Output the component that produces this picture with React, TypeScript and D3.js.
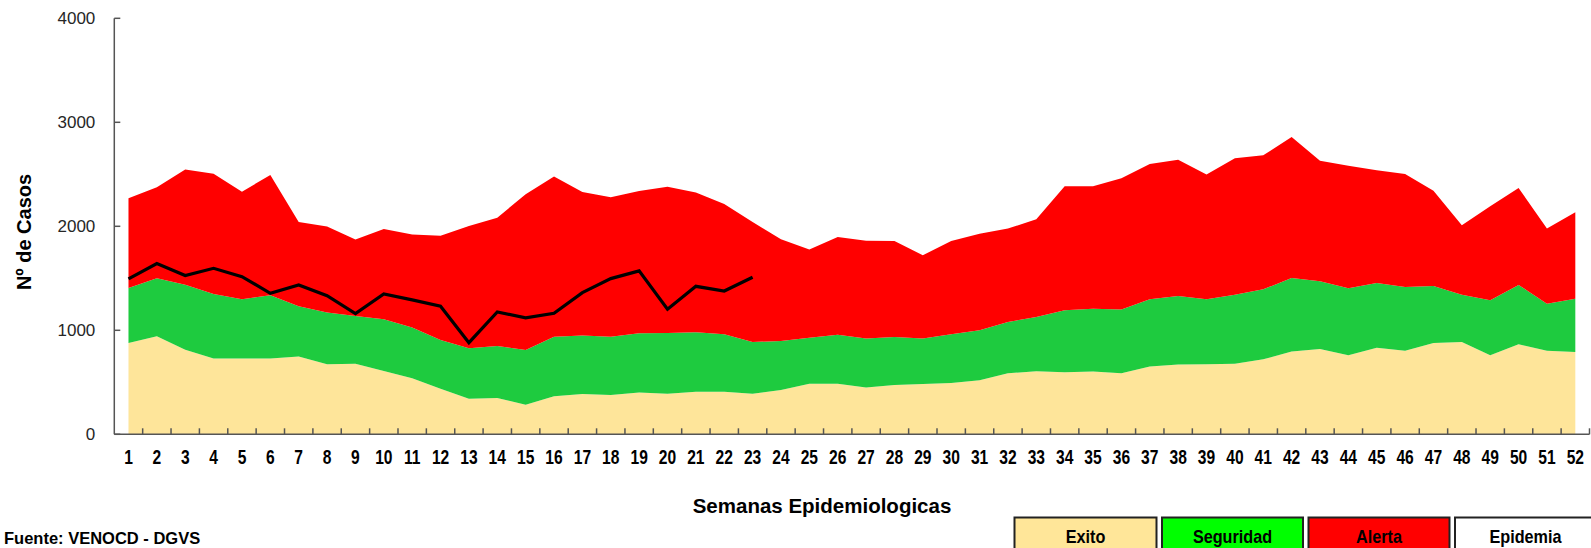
import { useMemo } from 'react';
import * as d3 from 'd3';

// upper limits of each zone, per epidemiological week
const weeks = d3.range(1, 53);
const exito = [878, 942, 814, 728, 728, 728, 747, 673, 679, 609, 538, 439, 343, 349, 285, 365, 388, 378, 401, 391, 410, 410, 391, 426, 487, 487, 449, 474, 484, 494, 519, 587, 606, 596, 603, 587, 651, 670, 673, 679, 721, 795, 821, 760, 833, 804, 878, 888, 760, 865, 804, 792];
const seguridad = [1407, 1500, 1439, 1349, 1298, 1337, 1231, 1170, 1138, 1106, 1026, 907, 827, 849, 811, 939, 949, 939, 971, 974, 981, 962, 888, 897, 929, 958, 920, 936, 920, 962, 1000, 1080, 1128, 1192, 1208, 1199, 1298, 1330, 1298, 1343, 1394, 1503, 1471, 1404, 1455, 1417, 1426, 1343, 1288, 1436, 1256, 1304];
const alerta = [2269, 2375, 2545, 2506, 2333, 2494, 2042, 1997, 1872, 1974, 1920, 1910, 2003, 2083, 2308, 2478, 2330, 2279, 2340, 2381, 2324, 2215, 2042, 1875, 1776, 1897, 1862, 1859, 1721, 1859, 1929, 1978, 2067, 2385, 2385, 2462, 2599, 2641, 2497, 2654, 2683, 2859, 2631, 2583, 2538, 2503, 2343, 2010, 2192, 2369, 1978, 2135];
// cases reported so far (weeks 1-23)
const casos = [1494, 1641, 1526, 1596, 1516, 1356, 1436, 1333, 1160, 1349, 1292, 1231, 881, 1176, 1119, 1163, 1362, 1497, 1571, 1202, 1423, 1378, 1510];
const yTickValues = [0, 1000, 2000, 3000, 4000];

const legendItems = [
  { label: 'Exito', color: '#FFE699' },
  { label: 'Seguridad', color: '#00FF00' },
  { label: 'Alerta', color: '#FF0000' },
  { label: 'Epidemia', color: '#FFFFFF' },
];

const W = 1591;
const H = 548;
const arial = "'Liberation Sans', Arial, sans-serif";

const App = () => {
  const xScale = useMemo(() => d3.scaleBand<number>().domain(weeks).range([114.3, 1589.5]).padding(0), []);
  const yScale = useMemo(() => d3.scaleLinear().domain([0, 4000]).range([434.3, 18.3]), []);
  const cx = (w: number) => (xScale(w) ?? 0) + xScale.bandwidth() / 2;

  const bands = useMemo(() => {
    const area = (lo: (i: number) => number, hi: (i: number) => number) =>
      d3.area<number>()
        .x((w) => cx(w))
        .y0((_, i) => yScale(lo(i)))
        .y1((_, i) => yScale(hi(i)))(weeks) || undefined;
    return [
      { color: '#FEE59A', d: area(() => 0, (i) => exito[i]) },
      { color: '#1ECB3F', d: area((i) => exito[i], (i) => seguridad[i]) },
      { color: '#FF0000', d: area((i) => seguridad[i], (i) => alerta[i]) },
    ];
  }, [xScale, yScale]);

  const casosLine = useMemo(() => d3.line<number>()
    .x((_, i) => cx(weeks[i]))
    .y((v) => yScale(v))(casos) || undefined, [xScale, yScale]);

  const x0 = xScale.range()[0];
  const x1 = xScale.range()[1];
  const y0 = yScale(0);
  const boundaries = weeks.map((w) => (xScale(w) ?? 0) + xScale.bandwidth());

  const legendX = [1014.5, 1162, 1308.5, 1455];
  const legendW = [142, 141, 141, 141];

  return (
    <svg width={W} height={H} style={{ position: 'fixed', left: 0, top: 0, background: '#fff' }}>
      {bands.map((b) => (
        <path key={b.color} d={b.d} fill={b.color} stroke="none" />
      ))}

      <path d={casosLine} fill="none" stroke="#000" strokeWidth={3.2} strokeLinejoin="miter" />

      {/* Y axis */}
      <line x1={x0} y1={yScale(4000)} x2={x0} y2={y0} stroke="#555" strokeWidth={1.5} />
      {yTickValues.map((v) => (
        <g key={v} transform={`translate(${x0}, ${yScale(v)})`}>
          <line x2={6} stroke="#555" strokeWidth={1.5} />
          <text x={-19} dy="0.36em" textAnchor="end" fontFamily={arial} fontSize={17} fill="#262626">
            {v}
          </text>
        </g>
      ))}

      {/* X axis */}
      <line x1={x0} y1={y0} x2={x1} y2={y0} stroke="#555" strokeWidth={1.5} />
      {boundaries.map((bx, i) => (
        <line key={i} x1={bx} x2={bx} y1={y0} y2={y0 - 6} stroke="#555" strokeWidth={1.5} />
      ))}
      {weeks.map((w) => (
        <text key={w} transform={`translate(${cx(w)}, 463.5) scale(0.8, 1)`} textAnchor="middle" fontFamily={arial} fontWeight="bold" fontSize={19.5} fill="#000">
          {w}
        </text>
      ))}

      <text x={822} y={513} textAnchor="middle" fontFamily={arial} fontWeight="bold" fontSize={20.5} fill="#000">
        Semanas Epidemiologicas
      </text>
      <text transform="translate(31, 232) rotate(-90)" textAnchor="middle" fontFamily={arial} fontWeight="bold" fontSize={20} fill="#000">
        Nº de Casos
      </text>

      <text x={4} y={544} fontFamily={arial} fontWeight="bold" fontSize={16.5} fill="#000">
        Fuente: VENOCD - DGVS
      </text>

      {/* legend */}
      {legendItems.map((item, i) => (
        <g key={item.label}>
          <rect x={legendX[i]} y={517.5} width={legendW[i]} height={40} fill={item.color} stroke="#222" strokeWidth={2} />
          <text transform={`translate(${legendX[i] + legendW[i] / 2}, 542.5) scale(0.9, 1)`} textAnchor="middle" fontFamily={arial} fontWeight="bold" fontSize={18} fill="#000">
            {item.label}
          </text>
        </g>
      ))}
    </svg>
  );
};

export default App;
